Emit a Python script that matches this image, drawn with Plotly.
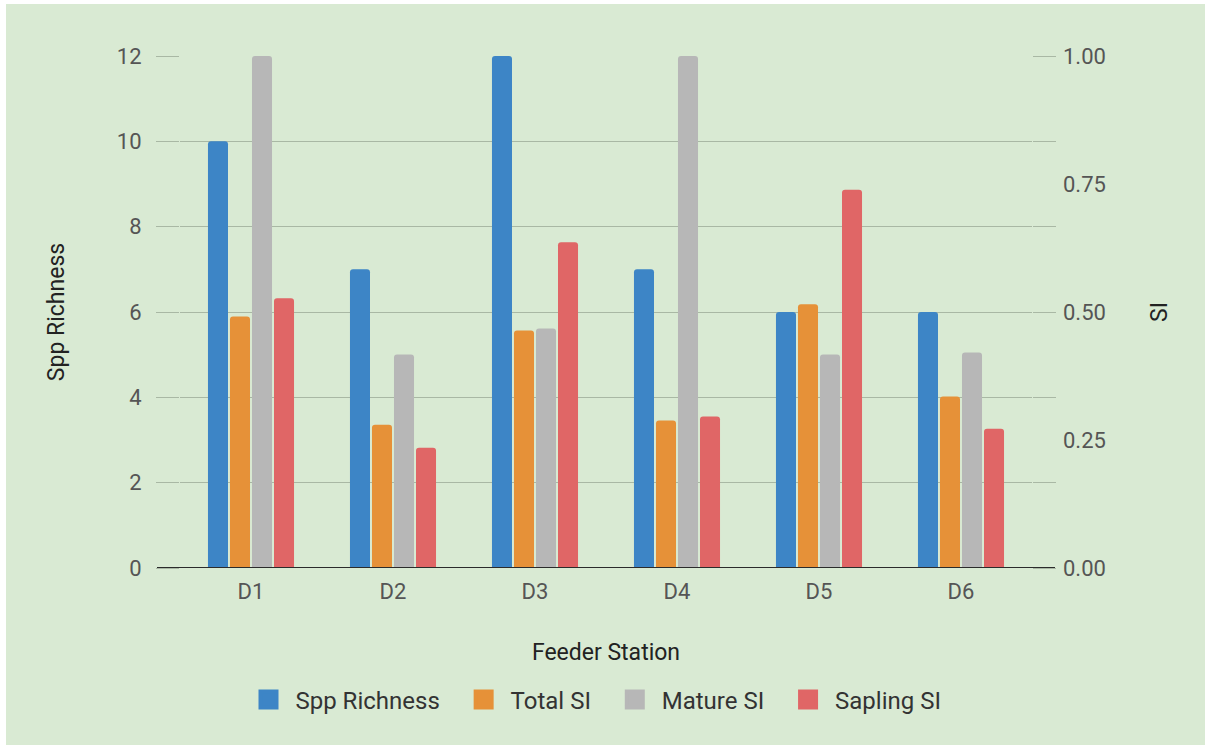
import plotly.graph_objects as go

# Feeder station survey results
stations = ["D1", "D2", "D3", "D4", "D5", "D6"]
spp_richness = [10, 7, 12, 7, 6, 6]
total_si = [0.491, 0.280, 0.464, 0.288, 0.515, 0.335]
mature_si = [1.00, 0.417, 0.468, 1.00, 0.417, 0.421]
sapling_si = [0.527, 0.235, 0.636, 0.296, 0.739, 0.272]

series_names = ["Spp Richness", "Total SI", "Mature SI", "Sapling SI"]
series_colors = ["#3d85c6", "#e69138", "#b7b7b7", "#e06666"]
left_ticks = [0, 2, 4, 6, 8, 10, 12]
right_ticks = [0, 0.25, 0.5, 0.75, 1.0]

W, H = 1205, 745
L, R, T, B = 180, 173, 56, 177
PW, PH = W - L - R, H - T - B
GRID = "#a9b8a4"
BG = "#d9ead3"

fig = go.Figure()

values = [spp_richness, total_si, mature_si, sapling_si]
axes = ["y", "y2", "y2", "y2"]
for i, (name, vals, ax, col) in enumerate(zip(series_names, values, axes, series_colors)):
    fig.add_trace(go.Bar(
        x=stations, y=vals, name=name, yaxis=ax, offsetgroup=str(i),
        marker=dict(color=col, line=dict(width=0)),
        showlegend=False, hoverinfo="skip",
    ))

# legend entries with larger square swatches
for name, col in zip(series_names, series_colors):
    fig.add_trace(go.Scatter(
        x=[None], y=[None], mode="markers",
        name="\u00a0" + name + "\u00a0\u00a0\u00a0",
        marker=dict(symbol="square", size=16, color=col,
                    line=dict(color=col, width=4)),
        showlegend=True,
    ))

# chart background panel with a thin white border at top/left
fig.add_shape(
    type="rect", xref="paper", yref="paper",
    x0=(6 - L) / PW, x1=(W - L) / PW,
    y0=(T + PH - H) / PH, y1=(T + PH - 4) / PH,
    fillcolor=BG, line=dict(width=0), layer="below",
)
# baseline
fig.add_shape(
    type="line", xref="paper", yref="y",
    x0=-23 / PW, x1=1 + 23 / PW, y0=0, y1=0,
    line=dict(color="#2b2b2b", width=2), layer="above",
)

fig.update_layout(
    width=W, height=H,
    margin=dict(l=L, r=R, t=T, b=B, autoexpand=False),
    paper_bgcolor="white",
    plot_bgcolor="rgba(0,0,0,0)",
    font=dict(family="Roboto", size=22, color="#555555"),
    barmode="group",
    bargap=0.38,
    bargroupgap=0.09,
    barcornerradius=3,
    showlegend=True,
    legend=dict(
        orientation="h", x=0.5, xanchor="center",
        y=(T + PH - 700) / PH, yanchor="middle",
        font=dict(size=24, color="#333333"),
        bgcolor="rgba(0,0,0,0)",
        itemwidth=32,
    ),
    xaxis=dict(
        showgrid=False, zeroline=False, showline=False, ticks="",
        ticklabelstandoff=8,
        tickfont=dict(size=22, color="#555555"),
        title=dict(text="Feeder Station", font=dict(size=23, color="#222222"), standoff=40),
    ),
    yaxis=dict(
        range=[0, 12], tickvals=left_ticks,
        showgrid=True, gridcolor=GRID, gridwidth=1,
        zeroline=False, showline=False,
        ticks="outside", ticklen=23, tickcolor=GRID, tickwidth=1,
        mirror="ticks",
        ticklabelstandoff=10,
        tickfont=dict(size=22, color="#555555"),
        title=dict(text="Spp Richness", font=dict(size=23, color="#222222"), standoff=45),
    ),
    yaxis2=dict(
        range=[0, 1], tickvals=right_ticks, tickformat=".2f",
        overlaying="y", side="right",
        showgrid=False, zeroline=False, showline=False, ticks="",
        ticklabelstandoff=30,
        tickfont=dict(size=22, color="#555555"),
        title=dict(text="SI", font=dict(size=23, color="#222222"), standoff=45),
    ),
)

fig.write_html("out.html")
